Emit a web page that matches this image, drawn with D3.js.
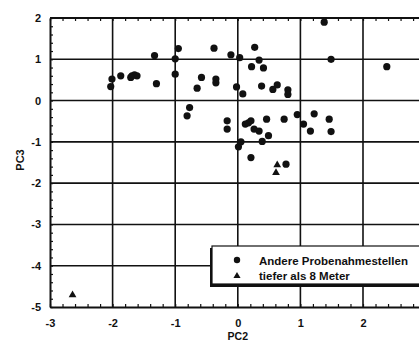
<!DOCTYPE html>
<html><head><meta charset="utf-8">
<script src="https://cdnjs.cloudflare.com/ajax/libs/d3/7.8.5/d3.min.js"></script>
<style>html,body{margin:0;padding:0;background:#fff;overflow:hidden}svg{display:block}</style>
</head><body>
<script>
// Data
const circlePC2 = [-1.33,-0.95,-1.00,-1.00,-1.30,-2.01,-2.03,-1.87,-1.69,-1.65,-1.61,-1.71,-0.77,-0.81,-0.65,-0.58,
  1.38,-0.38,-0.11,0.03,0.27,0.34,0.22,0.41,1.49,2.38,-0.35,-0.35,-0.02,0.08,0.38,0.56,0.63,0.80,0.80,
  -0.17,-0.17,0.12,0.17,0.21,0.26,0.34,0.46,0.49,0.39,0.74,0.95,1.05,1.22,1.16,1.46,1.49,0.01,0.05,0.21,0.77];
const circlePC3 = [1.09,1.26,1.01,0.64,0.41,0.52,0.34,0.60,0.60,0.62,0.60,0.56,-0.17,-0.37,0.30,0.56,
  1.90,1.27,1.11,1.04,1.29,0.98,0.82,0.79,1.00,0.82,0.52,0.43,0.33,0.16,0.35,0.27,0.38,0.26,0.15,
  -0.49,-0.69,-0.57,-0.54,-0.49,-0.69,-0.74,-0.45,-0.85,-0.99,-0.45,-0.34,-0.57,-0.32,-0.74,-0.45,-0.75,-1.12,-1.00,-1.38,-1.54];
const trianglePC2 = [0.63,0.61,-2.64];
const trianglePC3 = [-1.56,-1.75,-4.71];
const xTicks = [-3,-2,-1,0,1,2];
const yTicks = [2,1,0,-1,-2,-3,-4,-5];
const legendLabels = ["Andere Probenahmestellen","tiefer als 8 Meter"];

const W = 419, H = 341;
const svg = d3.select("body").append("svg").attr("width", W).attr("height", H)
  .style("font-family","'Liberation Sans', Arial, sans-serif");
const ink = "#111";
const x = d3.scaleLinear().domain([-3,3]).range([50,425.6]);
const y = d3.scaleLinear().domain([-5,2]).range([307,18]);

// gridlines
const g = svg.append("g");
g.selectAll("line.gx").data(xTicks.slice(1)).join("line")
  .attr("x1", d=>x(d)).attr("x2", d=>x(d)).attr("y1", y(2)).attr("y2", y(-5))
  .attr("stroke", ink).attr("stroke-width", 1.6);
g.selectAll("line.gy").data(yTicks.slice(0,-1)).join("line")
  .attr("x1", x(-3)).attr("x2", x(3)).attr("y1", d=>y(d)).attr("y2", d=>y(d))
  .attr("stroke", ink).attr("stroke-width", 1.6);

// axes with inward minor ticks
const minorX = d3.range(-3, 3.001, 0.2);
const minorY = d3.range(-5, 2.001, 0.2);
const axL = d3.axisLeft(y).tickValues(yTicks).tickSize(0).tickPadding(9).tickFormat(d3.format("d"));
const axB = d3.axisBottom(x).tickValues(xTicks).tickSize(0).tickPadding(12).tickFormat(d3.format("d"));
const la = svg.append("g").attr("transform", `translate(${x(-3)},0)`).call(axL);
const ba = svg.append("g").attr("transform", `translate(0,${y(-5)})`).call(axB);
[la, ba].forEach(a => {
  a.select(".domain").attr("stroke", ink).attr("stroke-width", 2);
  a.selectAll("text").attr("fill", ink).style("font-size","11px").style("font-weight","bold");
});
la.selectAll("text").text(d => d < 0 ? "-" + Math.abs(d) : d);
ba.selectAll("text").text(d => d < 0 ? "-" + Math.abs(d) : d);
// top border
svg.append("line").attr("x1", x(-3)).attr("x2", x(3)).attr("y1", y(2)).attr("y2", y(2))
  .attr("stroke", ink).attr("stroke-width", 2);
// minor ticks
svg.append("g").call(d3.axisRight(y).tickValues(minorY).tickSize(3).tickFormat(""))
  .attr("transform", `translate(${x(-3)},0)`).call(a => { a.select(".domain").remove(); a.selectAll("line").attr("stroke", ink).attr("stroke-width",1.2); });
svg.append("g").call(d3.axisTop(x).tickValues(minorX).tickSize(3).tickFormat(""))
  .attr("transform", `translate(0,${y(-5)})`).call(a => { a.select(".domain").remove(); a.selectAll("line").attr("stroke", ink).attr("stroke-width",1.2); });
svg.append("g").call(d3.axisBottom(x).tickValues(minorX).tickSize(3).tickFormat(""))
  .attr("transform", `translate(0,${y(2)})`).call(a => { a.select(".domain").remove(); a.selectAll("line").attr("stroke", ink).attr("stroke-width",1.2); });

// axis titles
svg.append("text").attr("x", x(0)).attr("y", 339.5).attr("text-anchor","middle")
  .attr("fill", ink).style("font-size","10.5px").style("font-weight","bold").text("PC2");
svg.append("text").attr("transform", "translate(24,160) rotate(-90)").attr("text-anchor","middle")
  .attr("fill", ink).style("font-size","11px").style("font-weight","bold").text("PC3");

// points
const circles = circlePC2.map((v,i) => [v, circlePC3[i]]);
const tris = trianglePC2.map((v,i) => [v, trianglePC3[i]]);
svg.append("g").selectAll("circle").data(circles).join("circle")
  .attr("cx", d=>x(d[0])).attr("cy", d=>y(d[1])).attr("r", 3.6).attr("fill", ink);
const triSym = d3.symbol().type(d3.symbolTriangle).size(26);
svg.append("g").selectAll("path").data(tris).join("path")
  .attr("d", triSym).attr("transform", d=>`translate(${x(d[0])},${y(d[1])})`).attr("fill", ink);

// legend
const lg = svg.append("g");
lg.append("rect").attr("x", 210).attr("y", 248).attr("width", 230).attr("height", 39).attr("fill", ink);
lg.append("rect").attr("x", 212).attr("y", 246).attr("width", 230).attr("height", 38)
  .attr("fill", "#fff").attr("stroke", ink).attr("stroke-width", 1.2);
lg.append("circle").attr("cx", 237).attr("cy", 260).attr("r", 3.2).attr("fill", ink);
lg.append("path").attr("d", d3.symbol().type(d3.symbolTriangle).size(22)).attr("transform","translate(237,276)").attr("fill", ink);
lg.selectAll("text").data(legendLabels).join("text")
  .attr("x", 259).attr("y", (d,i)=>264.5 + i*15.5).attr("fill", ink)
  .style("font-size","11.5px").style("font-weight","bold").text(d=>d);
</script>
</body></html>
